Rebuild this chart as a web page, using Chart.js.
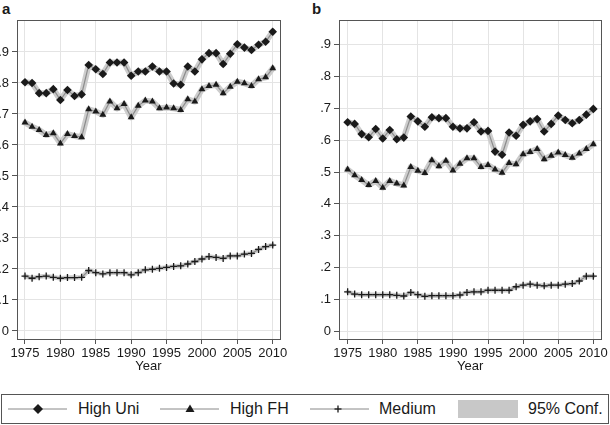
<!DOCTYPE html>
<html>
<head>
<meta charset="utf-8">
<script src="https://cdn.jsdelivr.net/npm/chart.js@4.4.1/dist/chart.umd.min.js"></script>
<style>
  body { margin: 0; width: 610px; height: 425px; overflow: hidden; background: #fff; position: relative;
         font-family: 'Liberation Sans', Arial, Helvetica, sans-serif; color: #1a1a1a; }
  canvas { position: absolute; top: 0; }
  #chartA { left: -20px; }
  #chartB { left: 305px; }
  .panel { position: absolute; font-weight: bold; font-size: 15px; }
  #legend { position: absolute; left: 1px; top: 394px; width: 606px; height: 28px; border: 1px solid #555; }
  #legend span { position: absolute; top: 5px; font-size: 16px; line-height: 18px; }
  #legend svg { position: absolute; left: 0; top: 0; }
</style>
</head>
<body>
<div class="panel" style="left:2px;top:0px;">a</div>
<div class="panel" style="left:312px;top:0px;">b</div>
<canvas id="chartA" width="325" height="380"></canvas>
<canvas id="chartB" width="305" height="380"></canvas>

<div id="legend">
  <svg width="606" height="28">
    <line x1="6" y1="14" x2="65" y2="14" stroke="#888" stroke-width="1"/>
    <polygon points="36,9 41,14 36,19 31,14" fill="#1a1a1a"/>
    <line x1="158" y1="14" x2="217" y2="14" stroke="#888" stroke-width="1"/>
    <polygon points="188,9.5 192.5,17 183.5,17" fill="#1a1a1a"/>
    <line x1="308" y1="14" x2="367" y2="14" stroke="#888" stroke-width="1"/>
    <line x1="336" y1="10.5" x2="336" y2="17.5" stroke="#1a1a1a" stroke-width="1.3"/>
    <line x1="332.5" y1="14" x2="339.5" y2="14" stroke="#1a1a1a" stroke-width="1.3"/>
    <rect x="456" y="5" width="60" height="18" fill="#c8c8c8"/>
  </svg>
  <span style="left:76px;">High Uni</span>
  <span style="left:228px;">High FH</span>
  <span style="left:377px;">Medium</span>
  <span style="left:526px;">95% Conf.</span>
</div>

<script>
// survey years
const years = [1975, 1976, 1977, 1978, 1979, 1980, 1981, 1982, 1983,
               1984, 1985, 1986, 1987, 1988, 1989, 1990, 1991, 1992,
               1993, 1994, 1995, 1996, 1997, 1998, 1999, 2000, 2001,
               2002, 2003, 2004, 2005, 2006, 2007, 2008, 2009, 2010];
const xTicks = [1975, 1980, 1985, 1990, 1995, 2000, 2005, 2010];
const yTicks = [0, 0.1, 0.2, 0.3, 0.4, 0.5, 0.6, 0.7, 0.8, 0.9];

// panel a
const uniA = [.802, .800, .767, .767, .780, .745, .777, .758, .763,
              .858, .844, .829, .866, .866, .866, .823, .837, .837,
              .853, .837, .837, .798, .794, .853, .837, .876, .896,
              .896, .861, .894, .925, .914, .906, .923, .933, .965];
const fhA = [.672, .659, .648, .632, .638, .605, .635, .629, .625,
             .715, .708, .697, .740, .718, .732, .689, .726, .743,
             .740, .718, .721, .718, .713, .747, .740, .780, .790,
             .794, .767, .788, .804, .799, .790, .812, .818, .847];
const medA = [.177, .170, .175, .177, .173, .170, .172, .172, .173,
              .195, .188, .184, .188, .188, .188, .181, .188, .197,
              .199, .202, .205, .208, .210, .216, .224, .232, .240,
              .237, .234, .242, .242, .248, .250, .263, .272, .277];

// panel b
const uniB = [.656, .651, .619, .609, .635, .605, .632, .603, .608,
              .674, .659, .642, .672, .669, .669, .642, .637, .637,
              .656, .627, .629, .564, .554, .624, .614, .648, .659,
              .666, .627, .651, .677, .663, .653, .663, .680, .698];
const fhB = [.508, .490, .475, .459, .472, .451, .472, .464, .458,
             .516, .504, .497, .537, .518, .535, .505, .526, .543,
             .543, .516, .522, .508, .498, .528, .524, .556, .563,
             .572, .540, .551, .561, .553, .545, .558, .572, .587];
const medB = [.124, .117, .115, .115, .115, .115, .115, .113, .111,
              .122, .115, .110, .112, .112, .112, .112, .114, .122,
              .124, .124, .129, .129, .129, .129, .140, .145, .148,
              .145, .143, .145, .145, .148, .150, .158, .173, .173];

const pts = vals => years.map((yr, i) => ({ x: yr, y: vals[i] }));

const frame = {
  id: 'frame',
  afterDraw(chart) {
    const { ctx, chartArea: a } = chart;
    ctx.save();
    ctx.strokeStyle = '#555';
    ctx.lineWidth = 1;
    ctx.strokeRect(Math.round(a.left) + 0.5, Math.round(a.top) + 0.5,
                   Math.round(a.right - a.left), Math.round(a.bottom - a.top));
    ctx.restore();
  }
};

function series(vals, style, radius, bandWidth) {
  return [
    { data: pts(vals), borderColor: '#cdcdcd', borderWidth: bandWidth, pointRadius: 0,
      borderJoinStyle: 'round', borderCapStyle: 'round', order: 2 },
    { data: pts(vals), borderColor: '#8c8c8c', borderWidth: 1.2, pointStyle: style,
      pointRadius: radius, pointBackgroundColor: '#1a1a1a', pointBorderColor: '#1a1a1a',
      pointBorderWidth: style === 'cross' ? 1.3 : 0, order: 1 }
  ];
}

function panel(id, uni, fh, med, xr, yr, yWidth, padRight) {
  const font = { family: "'Liberation Sans', Arial, sans-serif", size: 13 };
  new Chart(document.getElementById(id), {
    type: 'line',
    data: {
      datasets: [
        ...series(uni, 'rectRot', 4.3, 6),
        ...series(fh, 'triangle', 4, 6),
        ...series(med, 'cross', 3.5, 4.5)
      ]
    },
    options: {
      responsive: false,
      animation: false,
      devicePixelRatio: 1,
      layout: { padding: { left: 0, right: padRight, top: 20, bottom: 0 } },
      plugins: { legend: { display: false }, tooltip: { enabled: false } },
      elements: { line: { tension: 0 } },
      scales: {
        x: {
          type: 'linear', min: xr[0], max: xr[1],
          afterBuildTicks: ax => { ax.ticks = xTicks.map(v => ({ value: v })); },
          afterFit: ax => { ax.height = 41; },
          grid: { color: '#e4e4e4', tickColor: '#555', tickLength: 5 },
          border: { display: false },
          ticks: { font, color: '#1a1a1a', padding: 2, maxRotation: 0, callback: v => String(v) },
          title: { display: true, text: 'Year', font, color: '#1a1a1a', padding: { top: 0, bottom: 6 } }
        },
        y: {
          type: 'linear', min: yr[0], max: yr[1],
          afterBuildTicks: ax => { ax.ticks = yTicks.map(v => ({ value: v })); },
          afterFit: ax => { ax.width = yWidth; },
          grid: { color: '#e4e4e4', tickColor: '#555', tickLength: 5 },
          border: { display: false },
          ticks: { font, color: '#1a1a1a', padding: 3,
                   callback: v => v === 0 ? '0' : '.' + Math.round(v * 10) }
        }
      }
    },
    plugins: [frame]
  });
}

panel('chartA', uniA, fhA, medA, [1973.87, 2011.03], [-0.026, 1.003], 37, 25);
panel('chartB', uniB, fhB, medB, [1973.77, 2011.13], [-0.024, 0.977], 34, 7);
</script>
</body>
</html>
